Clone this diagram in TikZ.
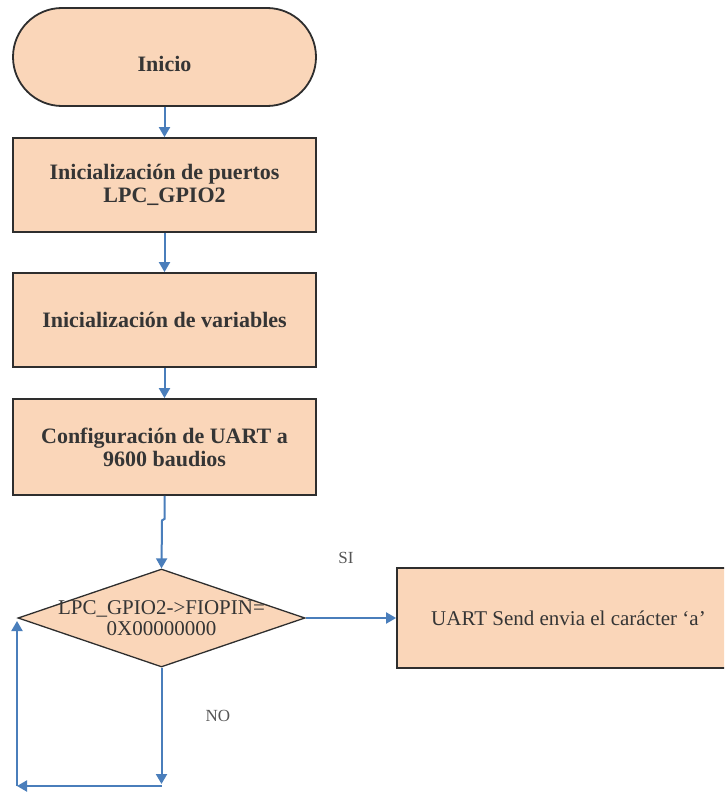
\documentclass[tikz,border=0pt]{standalone}
\usepackage{fontspec}
\setmainfont{Liberation Serif}
\usetikzlibrary{arrows.meta,shapes.geometric}
\definecolor{peach}{HTML}{FAD6B9}
\definecolor{edge}{HTML}{2E2E2E}
\definecolor{ink}{HTML}{353535}
\definecolor{flow}{HTML}{4A7EBB}
\definecolor{tag}{HTML}{555555}
\begin{document}
\begin{tikzpicture}[x=1pt,y=-1pt,
  boxstyle/.style={draw=edge, line width=1.8pt, fill=peach, text=ink,
    minimum width=303pt, inner sep=0pt, align=center,
    font=\fontsize{22}{25}\selectfont\bfseries},
  termstyle/.style={boxstyle, rounded corners=49pt, minimum height=98pt},
  decstyle/.style={diamond, draw=edge, line width=1.3pt, fill=peach,
    minimum width=287pt, minimum height=98pt, inner sep=0pt},
  flowarrow/.style={draw=flow, line width=2pt,
    -{Triangle[length=10pt,width=11pt]}},
  tagstyle/.style={text=tag, font=\fontsize{17}{20}\selectfont}
]
\clip (0,0) rectangle (724,792);

% process steps
\node[termstyle] (start) at (164.5,57) {\raisebox{-14pt}[0pt][0pt]{Inicio}};
\node[boxstyle, minimum height=94pt] (ports) at (164.5,185)
  {\raisebox{-3pt}{\shortstack{Inicialización de puertos\\LPC\_GPIO2}}};
\node[boxstyle, minimum height=94pt] (vars) at (164.5,320)
  {Inicialización de variables};
\node[boxstyle, minimum height=96pt] (uart) at (164.5,447)
  {\shortstack{Configuración de UART a\\9600 baudios}};

% decision
\node[decstyle, label={[text=ink, align=center,
    font=\fontsize{21}{21}\selectfont]center:LPC\_GPIO2->FIOPIN=\\0X00000000}]
  (dec) at (161.5,618) {};

% action on a positive test
\node[draw=edge, line width=1.8pt, fill=peach, text=ink,
  minimum width=343pt, minimum height=100pt, inner sep=0pt,
  font=\fontsize{21}{25}\selectfont] (send) at (568.5,618)
  {UART Send envia el carácter {\textquoteleft}a{\textquoteright}};

% connectors
\draw[flowarrow] (start.south) -- (ports.north);
\draw[flowarrow] (ports.south) -- (vars.north);
\draw[flowarrow] (vars.south) -- (uart.north);
\draw[flowarrow] (uart.south) -- ++(0,23) -- ++(-2.5,1.5) -- (dec.north);
\draw[flowarrow] (dec.east) -- (send.west);

% loop back on a negative test
\coordinate (loopA) at (161.5,786);
\coordinate (loopB) at (17,786);
\coordinate (loopC) at (17,621);
\draw[flowarrow, shorten >=2pt] (dec.south) -- (loopA);
\draw[flowarrow] (loopA) -- (loopB);
\draw[flowarrow] (loopB) -- (loopC);

% branch labels
\node[tagstyle] (si) at (346,558) {SI};
\node[tagstyle] (no) at (218,716) {NO};
\end{tikzpicture}
\end{document}
